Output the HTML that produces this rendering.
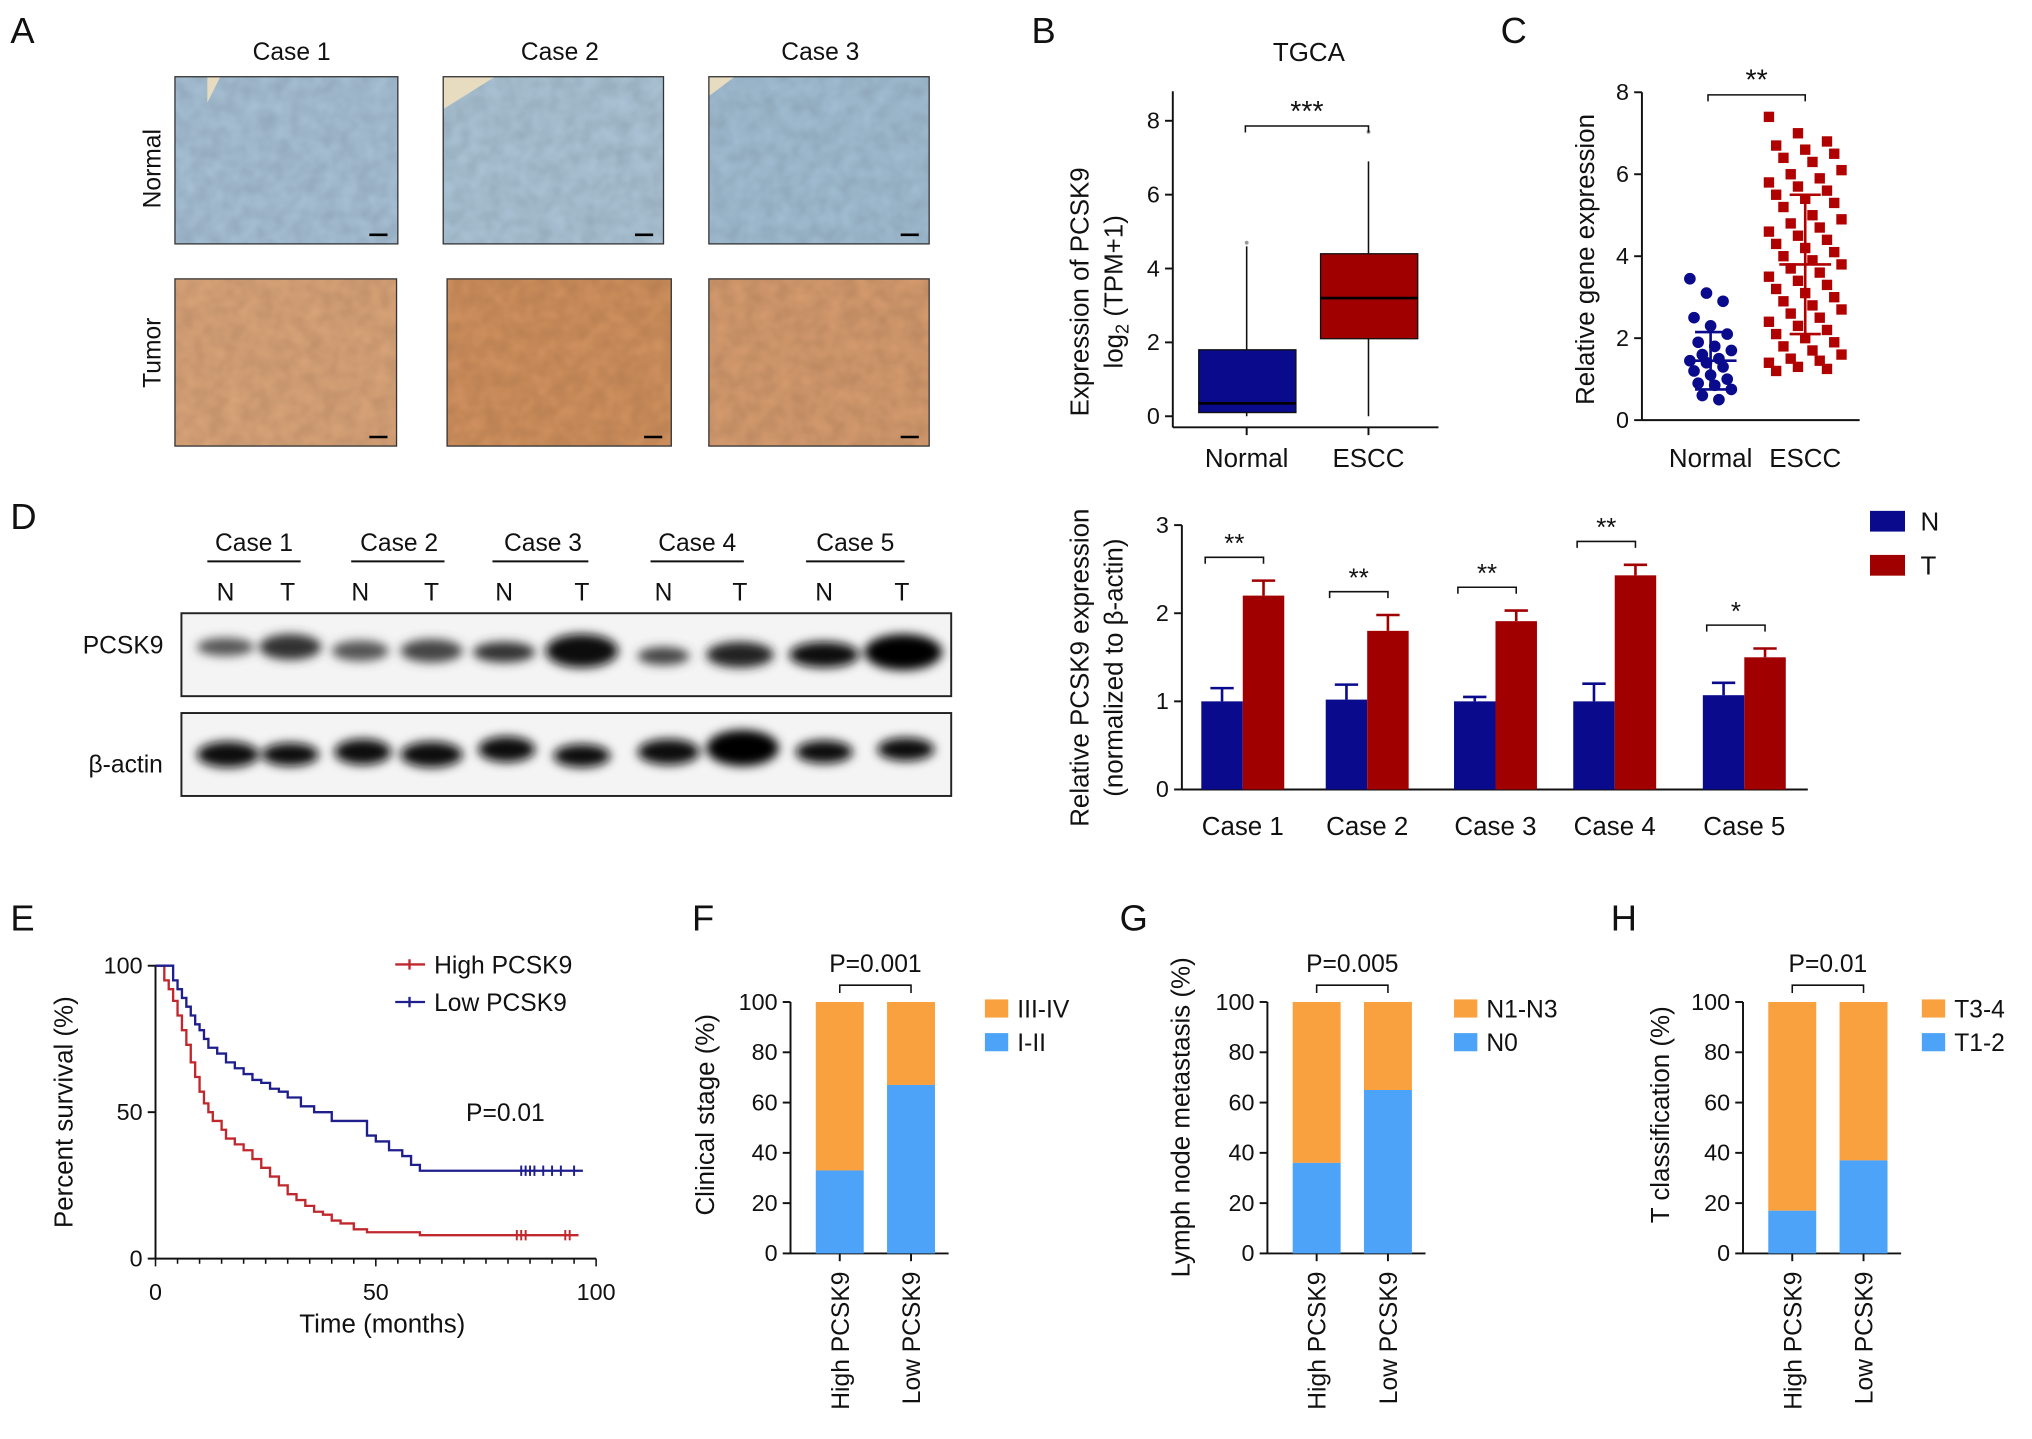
<!DOCTYPE html>
<html><head><meta charset="utf-8"><style>
html,body{margin:0;padding:0;background:#fff;}
svg{display:block;font-family:"Liberation Sans",Arial,sans-serif;}
</style></head><body>
<svg id="fig" width="2032" height="1439" viewBox="0 0 1568 1110" xmlns="http://www.w3.org/2000/svg">
<defs>
<filter id="blur" x="-50%" y="-50%" width="200%" height="200%"><feGaussianBlur stdDeviation="4"/></filter>
<filter id="tex" x="0" y="0" width="1" height="1"><feTurbulence type="fractalNoise" baseFrequency="0.08" numOctaves="2" result="n"/><feColorMatrix in="n" type="matrix" values="0.3 0 0 0 0.7  0.3 0 0 0 0.7  0.3 0 0 0 0.7  0 0 0 0 1" result="g"/><feBlend in="SourceGraphic" in2="g" mode="multiply" result="b"/><feComposite in="b" in2="SourceGraphic" operator="in"/></filter>
</defs>
<rect width="1568" height="1110" fill="#fff"/>
<!-- Panel letters -->
<g font-size="28" fill="#111">
<text x="8" y="33">A</text>
<text x="796" y="33">B</text>
<text x="1158" y="33">C</text>
<text x="8" y="408">D</text>
<text x="8" y="718">E</text>
<text x="534" y="718">F</text>
<text x="864" y="718">G</text>
<text x="1243" y="718">H</text>
</g>
<!-- Panel A -->
<g font-size="19" fill="#111" text-anchor="middle">
<text x="225" y="46">Case 1</text><text x="432" y="46">Case 2</text><text x="633" y="46">Case 3</text>
<text transform="translate(124,130) rotate(-90)">Normal</text>
<text transform="translate(124,272) rotate(-90)">Tumor</text>
<rect filter="url(#tex)" x="135" y="59" width="172" height="129" fill="#a9c3d8"/>
<rect filter="url(#tex)" x="342" y="59" width="170" height="129" fill="#adc6d8"/>
<rect filter="url(#tex)" x="547" y="59" width="170" height="129" fill="#a4c0d6"/>
<rect filter="url(#tex)" x="135" y="215" width="171" height="129" fill="#dca67a"/>
<rect filter="url(#tex)" x="345" y="215" width="173" height="129" fill="#d3935f"/>
<rect filter="url(#tex)" x="547" y="215" width="170" height="129" fill="#d89d70"/>
<path d="M135 59h35l-10 20v-20zM342 59h40l-40 25zM547 59h20l-20 15z" fill="#e8dcc0"/>
<g stroke="#333" fill="none" stroke-width="1">
<rect x="135" y="59" width="172" height="129"/><rect x="342" y="59" width="170" height="129"/><rect x="547" y="59" width="170" height="129"/>
<rect x="135" y="215" width="171" height="129"/><rect x="345" y="215" width="173" height="129"/><rect x="547" y="215" width="170" height="129"/>
</g>
<g stroke="#000" stroke-width="2"><path d="M285 181h14M490 181h14M695 181h14M285 337h14M497 337h14M695 337h14"/></g>
</g>
<!-- Panel D blot -->
<g font-size="19" fill="#111" text-anchor="middle">
<text x="196" y="425">Case 1</text><text x="308" y="425">Case 2</text><text x="419" y="425">Case 3</text><text x="538" y="425">Case 4</text><text x="660" y="425">Case 5</text>
<g stroke="#111" stroke-width="1.5"><path d="M160 433h72M271 433h72M380 433h74M502 433h72M622 433h76"/></g>
<text x="174" y="463">N</text><text x="222" y="463">T</text><text x="278" y="463">N</text><text x="333" y="463">T</text><text x="389" y="463">N</text><text x="449" y="463">T</text><text x="512" y="463">N</text><text x="571" y="463">T</text><text x="636" y="463">N</text><text x="696" y="463">T</text>
<text x="95" y="504">PCSK9</text><text x="97" y="596">β-actin</text>
<rect x="140" y="473" width="594" height="64" fill="#f4f4f4" stroke="#222" stroke-width="1.5"/>
<rect x="140" y="550" width="594" height="64" fill="#f4f4f4" stroke="#222" stroke-width="1.5"/>
<g filter="url(#blur)">
<ellipse cx="174" cy="499" rx="22" ry="7" fill="#555"/><ellipse cx="224" cy="499" rx="24" ry="10" fill="#333"/>
<ellipse cx="278" cy="502" rx="22" ry="8" fill="#555"/><ellipse cx="333" cy="502" rx="24" ry="9" fill="#444"/>
<ellipse cx="389" cy="503" rx="24" ry="8" fill="#333"/><ellipse cx="449" cy="502" rx="28" ry="13" fill="#111"/>
<ellipse cx="512" cy="506" rx="20" ry="7" fill="#444"/><ellipse cx="571" cy="505" rx="26" ry="10" fill="#222"/>
<ellipse cx="636" cy="505" rx="27" ry="10" fill="#111"/><ellipse cx="697" cy="503" rx="30" ry="14" fill="#000"/>
<ellipse cx="176" cy="582" rx="24" ry="10" fill="#111"/><ellipse cx="224" cy="582" rx="22" ry="9" fill="#111"/>
<ellipse cx="280" cy="580" rx="22" ry="10" fill="#111"/><ellipse cx="333" cy="582" rx="24" ry="10" fill="#111"/>
<ellipse cx="391" cy="578" rx="22" ry="10" fill="#111"/><ellipse cx="449" cy="583" rx="22" ry="9" fill="#111"/>
<ellipse cx="516" cy="580" rx="24" ry="10" fill="#111"/><ellipse cx="573" cy="577" rx="28" ry="14" fill="#000"/>
<ellipse cx="636" cy="580" rx="22" ry="9" fill="#111"/><ellipse cx="699" cy="578" rx="22" ry="9" fill="#111"/>
</g>
</g>
<!-- static labels -->
<g font-size="20" fill="#111" text-anchor="middle">
<text x="1010" y="47">TGCA</text>
<text transform="translate(840,225) rotate(-90)">Expression of PCSK9</text>
<text transform="translate(866,225) rotate(-90)">log<tspan font-size="14" dy="5">2</tspan><tspan dy="-5"> (TPM+1)</tspan></text>
<text transform="translate(1230,200) rotate(-90)">Relative gene expression</text>
<text transform="translate(840,515) rotate(-90)">Relative PCSK9 expression</text>
<text transform="translate(866,515) rotate(-90)">(normalized to β-actin)</text>
<text transform="translate(56,858) rotate(-90)">Percent survival (%)</text>
<text x="295" y="1028">Time (months)</text>
<text transform="translate(551,860) rotate(-90)">Clinical stage (%)</text>
<text transform="translate(918,862) rotate(-90)">Lymph node metastasis (%)</text>
<text transform="translate(1288,860) rotate(-90)">T classification (%)</text>
</g>
<g id="charts"></g>
</svg>
<script>
// ---- data ----
const bCategories = ["Normal", "ESCC"];
const bQ1 = [0.1, 2.1];
const bMedian = [0.35, 3.2];
const bQ3 = [1.8, 4.4];
const bMin = [0.0, 0.0];
const bMax = [4.6, 6.9];
const bOutliers = [4.7, 7.7];
const bTicks = [0, 2, 4, 6, 8];

const cCategories = ["Normal", "ESCC"];
const cNormal = [3.45,3.1,2.9,2.5,2.3,2.1,1.9,1.8,1.7,1.6,1.5,1.45,1.4,1.3,1.2,1.1,1.0,0.9,0.85,0.75,0.6,0.5];
const cEscc = [7.4,7.0,6.8,6.7,6.6,6.5,6.4,6.3,6.1,6.0,5.9,5.8,5.7,5.6,5.5,5.4,5.3,5.2,5.0,4.9,4.8,4.7,4.6,4.5,4.4,4.3,4.2,4.1,4.0,3.9,3.8,3.7,3.6,3.5,3.4,3.3,3.2,3.1,3.0,2.9,2.8,2.7,2.6,2.5,2.4,2.3,2.2,2.1,2.0,1.9,1.8,1.7,1.6,1.5,1.45,1.4,1.3,1.25,1.2];
const cMean = [1.45, 3.8];
const cSD = [0.7, 1.7];
const cTicks = [0, 2, 4, 6, 8];

const dCases = ["Case 1","Case 2","Case 3","Case 4","Case 5"];
const dN = [1.0, 1.02, 1.0, 1.0, 1.07];
const dT = [2.2, 1.8, 1.91, 2.43, 1.5];
const dNErr = [0.15, 0.17, 0.05, 0.2, 0.14];
const dTErr = [0.17, 0.18, 0.12, 0.12, 0.1];
const dSig = ["**","**","**","**","*"];
const dTicks = [0, 1, 2, 3];

const eHighT = [0,2,3,4,5,6,7,8,9,10,11,12,13,15,16,18,20,22,24,26,28,30,32,34,36,38,40,42,45,48,60,96];
const eHighS = [100,95,92,88,83,78,73,67,62,57,53,50,47,44,41,39,37,34,31,28,25,22,20,18,16,15,13,12,10,9,8,8];
const eLowT = [0,4,5,6,7,8,9,10,11,12,14,16,18,20,22,24,26,28,30,33,36,40,44,48,50,53,56,58,60,97];
const eLowS = [100,95,92,89,86,83,80,78,75,72,70,67,65,63,61,60,58,57,55,52,50,47,47,42,40,37,35,32,30,30];
const eHighCens = [82,83,84,93,94];
const eLowCens = [83,84,85,86,88,90,92,95];
const eXTicks = [0, 50, 100];
const eYTicks = [0, 50, 100];

const stackGroups = ["High PCSK9", "Low PCSK9"];
const fLower = [33, 67];
const gLower = [36, 65];
const hLower = [17, 37];
const pctTicks = [0, 20, 40, 60, 80, 100];

// ---- helpers ----
const NS = "http://www.w3.org/2000/svg";
const root = document.getElementById("charts");
function mk(tag, attrs, parent) {
  const e = document.createElementNS(NS, tag);
  for (const k in attrs) e.setAttribute(k, attrs[k]);
  (parent || root).appendChild(e);
  return e;
}
function txt(s, x, y, size, anchor, parent) {
  const t = mk("text", {x: x, y: y, "font-size": size, "text-anchor": anchor || "middle", fill: "#111"}, parent);
  t.textContent = s;
  return t;
}
function lin(a, b, c, d) { return v => c + (v - a) * (d - c) / (b - a); }
function yAxis(x, y, ticks, ylo, yhi, parent) {
  mk("line", {x1: x, x2: x, y1: y(yhi), y2: y(ylo), stroke: "#111", "stroke-width": 1.5}, parent);
  ticks.forEach(t => {
    mk("line", {x1: x - 6, x2: x, y1: y(t), y2: y(t), stroke: "#111", "stroke-width": 1.5}, parent);
    const l = txt(String(t), x - 10, y(t) + 6, 18, "end", parent);
    
    
  });
}
function bracket(x1, x2, y, label, parent, size) {
  mk("path", {d: `M${x1} ${y+5}V${y}H${x2}V${y+5}`, stroke: "#111", fill: "none", "stroke-width": 1.2}, parent);
  txt(label, (x1 + x2) / 2, y - 4, size || 20, "middle", parent);
}

// ---- Panel B ----
(function(){
  const g = mk("g", {});
  
  
  const y = lin(0, 8, 321, 93);
  const cx = [962, 1056];
  yAxis(905, y, bTicks, -0.3, 8.8, g);
  mk("line", {x1: 905, x2: 1110, y1: y(-0.3), y2: y(-0.3), stroke: "#111", "stroke-width": 1.5}, g);
  const colors = ["#0a0a8c", "#a00000"];
  bCategories.forEach((c, i) => {
    mk("line", {x1: cx[i], x2: cx[i], y1: y(bMin[i]), y2: y(bMax[i]), stroke: "#111", "stroke-width": 1.2}, g);
    const b = mk("rect", {x: cx[i] - 37, y: y(bQ3[i]), width: 75, height: y(bQ1[i]) - y(bQ3[i]), fill: colors[i], stroke: "#111", "stroke-width": 1}, g);
    
    
    mk("line", {x1: cx[i] - 37, x2: cx[i] + 38, y1: y(bMedian[i]), y2: y(bMedian[i]), stroke: "#000", "stroke-width": 2}, g);
    mk("circle", {cx: cx[i], cy: y(bOutliers[i]), r: 1.5, fill: "#999"}, g);
    mk("line", {x1: cx[i], x2: cx[i], y1: y(-0.3), y2: y(-0.3) + 6, stroke: "#111", "stroke-width": 1.5}, g);
    const l = txt(c, cx[i], 360, 20, "middle", g);
    
    
  });
  bracket(961, 1056, 97, "***", g, 22);
})();

// ---- Panel C ----
(function(){
  const g = mk("g", {});
  
  
  const y = lin(0, 8, 324, 71);
  const cx = [1320, 1393];
  yAxis(1267, y, cTicks, 0, 8, g);
  mk("line", {x1: 1267, x2: 1435, y1: y(0), y2: y(0), stroke: "#111", "stroke-width": 1.5}, g);
  const sets = [cNormal, cEscc];
  const colors = ["#0a0a8c", "#b00000"];
  sets.forEach((arr, i) => {
    arr.forEach((v, k) => {
      const off = ((k * 37) % 11 - 5) * (i ? 5.6 : 3.2);
      const m = i === 0
        ? mk("circle", {cx: cx[i] + off, cy: y(v), r: 4.5, fill: colors[i]}, g)
        : mk("rect", {x: cx[i] + off - 4, y: y(v) - 4, width: 8, height: 8, fill: colors[i]}, g);
      
      
    });
    const hi = y(cMean[i] + cSD[i]), lo = y(cMean[i] - cSD[i]), m = y(cMean[i]);
    mk("path", {d: `M${cx[i]} ${hi}V${lo}M${cx[i]-12} ${hi}h24M${cx[i]-12} ${lo}h24M${cx[i]-20} ${m}h40`, stroke: colors[i], "stroke-width": 2, fill: "none"}, g);
    const l = txt(cCategories[i], cx[i], 360, 20, "middle", g);
    
    
  });
  bracket(1318, 1393, 73, "**", g, 22);
})();

// ---- Panel D bars ----
(function(){
  const g = mk("g", {});
  
  
  const y = lin(0, 3, 609, 405);
  const cx = [959, 1055, 1154, 1246, 1346];
  yAxis(912, y, dTicks, 0, 3, g);
  mk("line", {x1: 912, x2: 1395, y1: y(0), y2: y(0), stroke: "#111", "stroke-width": 1.5}, g);
  dCases.forEach((c, i) => {
    const bw = 32;
    [[dN, dNErr, "#0a0a8c", -1], [dT, dTErr, "#a00000", 0]].forEach(([vals, errs, col, s]) => {
      const x0 = cx[i] + s * bw;
      const top = y(vals[i] + errs[i]);
      mk("path", {d: `M${x0 + bw/2} ${y(vals[i])}V${top}M${x0 + bw/2 - 9} ${top}h18`, stroke: col, "stroke-width": 2, fill: "none"}, g);
      const r = mk("rect", {x: x0, y: y(vals[i]), width: bw, height: y(0) - y(vals[i]), fill: col}, g);
      
      
    });
    const by = y(Math.max(dT[i] + dTErr[i], dN[i] + dNErr[i])) - 18;
    bracket(cx[i] - 29, cx[i] + 16, by, dSig[i], g, 20);
    const l = txt(c, cx[i], 644, 20, "middle", g);
    
    
  });
  const leg = mk("g", {}, g);
  
  
  mk("rect", {x: 1443, y: 394, width: 27, height: 16, fill: "#0a0a8c"}, leg);
  txt("N", 1482, 409, 20, "start", leg);
  mk("rect", {x: 1443, y: 428, width: 27, height: 16, fill: "#a00000"}, leg);
  txt("T", 1482, 443, 20, "start", leg);
})();

// ---- Panel E ----
(function(){
  const g = mk("g", {});
  
  
  const x = lin(0, 100, 120, 460), y = lin(0, 100, 971, 745);
  yAxis(120, y, eYTicks, 0, 100, g);
  mk("line", {x1: 120, x2: 460, y1: y(0), y2: y(0), stroke: "#111", "stroke-width": 1.5}, g);
  for (let t = 0; t <= 100; t += 5) {
    mk("line", {x1: x(t), x2: x(t), y1: y(0), y2: y(0) + (t % 50 === 0 ? 6 : 4), stroke: "#111", "stroke-width": 1.2}, g);
  }
  eXTicks.forEach(t => {
    const l = txt(String(t), x(t), 1003, 18, "middle", g);
    
    
  });
  function step(T, S, col, cens, name) {
    let d = `M${x(T[0])} ${y(S[0])}`;
    for (let i = 1; i < T.length; i++) d += `H${x(T[i])}V${y(S[i])}`;
    const p = mk("path", {d: d, stroke: col, fill: "none", "stroke-width": 1.8}, g);
    
    
    const last = S[S.length - 1];
    cens.forEach(c => mk("line", {x1: x(c), x2: x(c), y1: y(last) - 4, y2: y(last) + 4, stroke: col, "stroke-width": 1.5}, g));
  }
  step(eHighT, eHighS, "#c0282d", eHighCens, "curve-high-pcsk9");
  step(eLowT, eLowS, "#1e1e8c", eLowCens, "curve-low-pcsk9");
  const leg = mk("g", {}, g);
  
  
  mk("path", {d: "M305 744h23M316 740v8", stroke: "#c0282d", "stroke-width": 1.8}, leg);
  txt("High PCSK9", 335, 751, 19, "start", leg);
  mk("path", {d: "M305 773h23M316 769v8", stroke: "#1e1e8c", "stroke-width": 1.8}, leg);
  txt("Low PCSK9", 335, 780, 19, "start", leg);
  txt("P=0.01", 390, 865, 19, "middle", g);
})();

// ---- Panels F,G,H ----
function stacked(name, axX, lower, pLabel, legA, legB, legX) {
  const g = mk("g", {});
  
  
  const y = lin(0, 100, 967, 773);
  yAxis(axX, y, pctTicks, 0, 100, g);
  mk("line", {x1: axX, x2: axX + 122, y1: y(0), y2: y(0), stroke: "#111", "stroke-width": 1.5}, g);
  const cx = [axX + 38, axX + 93];
  stackGroups.forEach((sg, i) => {
    const b1 = mk("rect", {x: cx[i] - 18.5, y: y(100), width: 37, height: y(lower[i]) - y(100), fill: "#f9a03f"}, g);
    
    
    const b2 = mk("rect", {x: cx[i] - 18.5, y: y(lower[i]), width: 37, height: y(0) - y(lower[i]), fill: "#4da3f7"}, g);
    
    
    mk("line", {x1: cx[i], x2: cx[i], y1: y(0), y2: y(0) + 6, stroke: "#111", "stroke-width": 1.5}, g);
    const l = txt(sg, 0, 0, 19, "end", g);
    l.setAttribute("transform", `translate(${cx[i] + 7},${y(0) + 14}) rotate(-90)`);
    
    
  });
  mk("path", {d: `M${cx[0]} 766V760H${cx[1]}V766`, stroke: "#111", fill: "none", "stroke-width": 1.2}, g);
  txt(pLabel, (cx[0] + cx[1]) / 2, 750, 19, "middle", g);
  const leg = mk("g", {}, g);
  
  
  mk("rect", {x: legX, y: 771, width: 18, height: 14, fill: "#f9a03f"}, leg);
  txt(legA, legX + 25, 785, 19, "start", leg);
  mk("rect", {x: legX, y: 797, width: 18, height: 14, fill: "#4da3f7"}, leg);
  txt(legB, legX + 25, 811, 19, "start", leg);
}
stacked("panel-f-clinical-stage", 610, fLower, "P=0.001", "III-IV", "I-II", 760);
stacked("panel-g-lymph-node", 978, gLower, "P=0.005", "N1-N3", "N0", 1122);
stacked("panel-h-t-class", 1345, hLower, "P=0.01", "T3-4", "T1-2", 1483);
</script>
</body></html>
